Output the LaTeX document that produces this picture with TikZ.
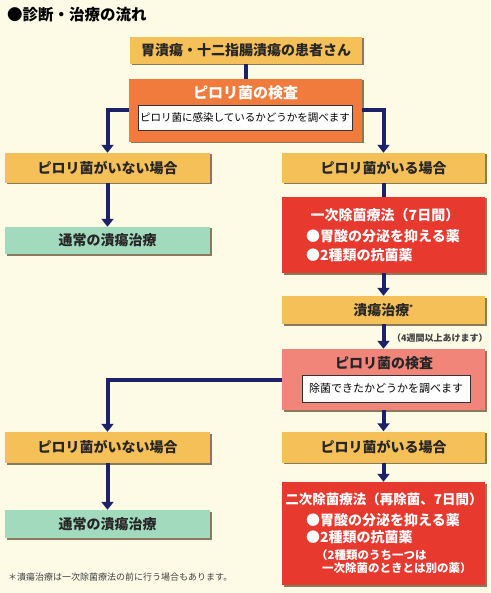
\documentclass[tikz,border=0pt]{standalone}
\usepackage{fontspec}
\setmainfont{Noto Sans CJK JP}
\usetikzlibrary{arrows.meta,shadows}
\definecolor{bgc}{HTML}{FDFBE6}
\definecolor{yel}{HTML}{F6C059}
\definecolor{ora}{HTML}{F07B3C}
\definecolor{redb}{HTML}{E8392F}
\definecolor{pinkb}{HTML}{F2857A}
\definecolor{grn}{HTML}{A2DABE}
\definecolor{navy}{HTML}{1B2268}
\definecolor{shd}{HTML}{6E5A3A}
\newcommand{\fsz}[1]{\fontsize{#1}{#1}\selectfont}
\tikzset{
  basebox/.style={rectangle, inner sep=0pt, font=\fsz{14}\bfseries,
    drop shadow={shadow xshift=1.5pt, shadow yshift=-1.5pt, fill=shd, opacity=0.8}},
  ybox/.style={basebox, fill=yel, text=black!85},
  gbox/.style={basebox, fill=grn, text=black!85},
  obox/.style={basebox, fill=ora},
  rbox/.style={basebox, fill=redb},
  pbox/.style={basebox, fill=pinkb},
  wbox/.style={rectangle, inner sep=0pt, fill=white, draw=black!80, line width=0.8pt, text=black},
  wtxt/.style={inner sep=0pt, text=white, font=\fsz{14}\bfseries},
  arr/.style={draw=navy, line width=4pt, -{Triangle[width=12pt,length=8pt]}},
  bar/.style={draw=navy, line width=4pt},
}
\begin{document}
\begin{tikzpicture}[x=1pt,y=-1pt]
\fill[bgc] (0,0) rectangle (490,593);
\useasboundingbox (0,0) rectangle (490,593);

\node[anchor=west, inner sep=0pt, font=\fsz{15.5}\bfseries] (title) at (7,15) {●診断・治療の流れ};

% top boxes
\node[ybox, minimum width=232pt, minimum height=27pt] (b1) at (246,50.5) {胃潰瘍・十二指腸潰瘍の患者さん};
\node[obox, minimum width=233pt, minimum height=63pt] (b2) at (245.5,110.5) {};
\node[wtxt, font=\fsz{15}\bfseries] (b2t) at (245.5,93) {ピロリ菌の検査};
\node[wbox, minimum width=214pt, minimum height=25pt, font=\fsz{10.5}] (b2i) at (245,118) {ピロリ菌に感染しているかどうかを調べます};

% row 2
\node[ybox, minimum width=205pt, minimum height=30pt] (L1) at (107.5,168) {ピロリ菌がいない場合};
\node[ybox, minimum width=203pt, minimum height=30pt] (R1) at (383.5,168) {ピロリ菌がいる場合};
\node[gbox, minimum width=205pt, minimum height=27pt] (G1) at (107.5,240.5) {通常の潰瘍治療};
\node[rbox, minimum width=203pt, minimum height=76pt] (Red1) at (383.5,235) {};
\node[wtxt] (r1a) at (385,215) {一次除菌療法（7日間）};
\node[wtxt, anchor=west] (r1b) at (306,236) {●胃酸の分泌を抑える薬};
\node[wtxt, anchor=west] (r1c) at (306,255) {●2種類の抗菌薬};

\node[ybox, minimum width=203pt, minimum height=28pt] (U) at (383.5,310) {潰瘍治療\textsuperscript{\fsz{7}*}};

\node[pbox, minimum width=203pt, minimum height=61pt] (P) at (383.5,379.5) {};
\node[inner sep=0pt, font=\fsz{14}\bfseries, text=black!85] (Pt) at (384,363) {ピロリ菌の検査};
\node[wbox, minimum width=168pt, minimum height=27pt, font=\fsz{11}] (Pi) at (386,388.5) {除菌できたかどうかを調べます};

% row 4
\node[ybox, minimum width=205pt, minimum height=31pt] (L2) at (107.5,447.5) {ピロリ菌がいない場合};
\node[ybox, minimum width=203pt, minimum height=31pt] (R2) at (383.5,447) {ピロリ菌がいる場合};
\node[gbox, minimum width=205pt, minimum height=28pt] (G2) at (107.5,524) {通常の潰瘍治療};
\node[rbox, minimum width=203pt, minimum height=103pt] (Red2) at (383.5,533.5) {};
\node[wtxt, font=\fsz{13.5}\bfseries] (r2a) at (384,499) {二次除菌療法（再除菌、7日間）};
\node[wtxt, anchor=west] (r2b) at (306,520) {●胃酸の分泌を抑える薬};
\node[wtxt, anchor=west] (r2c) at (306,537) {●2種類の抗菌薬};
\node[wtxt, anchor=west, font=\fsz{11.5}\bfseries] (r2d) at (316,555) {（2種類のうち一つは};
\node[wtxt, anchor=west, font=\fsz{11.5}\bfseries] (r2e) at (322,568) {一次除菌のときとは別の薬）};

% connectors
\draw[bar] (b1.south -| b2.north) -- (b2.north);
\draw[arr] (b2.west) -| (L1.north);
\draw[arr] (b2.east) -| (R1.north);
\draw[arr] (L1.south) -- (G1.north);
\draw[bar] (R1.south) -- (Red1.north);
\draw[arr] (Red1.south) -- (U.north);
\draw[arr] (U.south) -- (P.north);
\node[anchor=west, inner sep=0pt, font=\fsz{9}\bfseries, text=black!75] (lbl) at (392,338) {（4週間以上あけます）};
\draw[arr] (P.west) -| (L2.north);
\draw[arr] (P.south) -- (R2.north);
\draw[arr] (L2.south) -- (G2.north);
\draw[arr] (R2.south) -- (Red2.north);

\node[anchor=west, inner sep=0pt, font=\fsz{9}, text=black!75] (foot) at (8,577) {＊潰瘍治療は一次除菌療法の前に行う場合もあります。};
\end{tikzpicture}
\end{document}
